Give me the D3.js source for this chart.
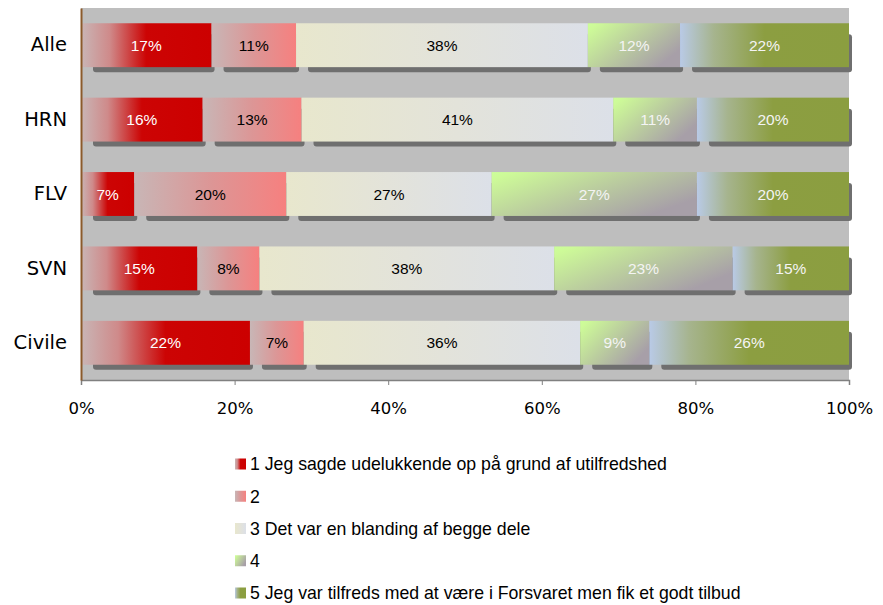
<!DOCTYPE html>
<html>
<head>
<meta charset="utf-8">
<script src="https://cdn.jsdelivr.net/npm/d3@7"></script>
<style>
  body { margin: 0; background: #fff; }
  svg { display: block; }
</style>
</head>
<body>
<svg id="chart" width="883" height="605"></svg>
<script>
// data
const groups = ["Alle", "HRN", "FLV", "SVN", "Civile"];
const answers = [
    "1 Jeg sagde udelukkende op på grund af utilfredshed",
    "2",
    "3 Det var en blanding af begge dele",
    "4",
    "5 Jeg var tilfreds med at være i Forsvaret men fik et godt tilbud"
];
const s1 = [17, 16, 7, 15, 22];
const s2 = [11, 13, 20, 8, 7];
const s3 = [38, 41, 27, 38, 36];
const s4 = [12, 11, 27, 23, 9];
const s5 = [22, 20, 20, 15, 26];
const xTicks = [0, 0.2, 0.4, 0.6, 0.8, 1];

const series = [s1, s2, s3, s4, s5];
const labelColor = ["#fff", "#000", "#000", "#f4f4f4", "#f4f4f4"];

const svg = d3.select("#chart");
const plot = { left: 81, right: 849, top: 8, bottom: 380 };

// gradients, roughly like the office fill effects
const defs = svg.append("defs");
const grads = [
    { x2: 1, y2: 0, stops: [[0, "#c9b6b6"], [0.22, "#cf8a8a"], [0.5, "#cc0404"], [1, "#cc0000"]] },
    { x2: 1, y2: 0, stops: [[0, "#c8b6b6"], [0.5, "#dc9696"], [1, "#f6807f"]] },
    { x2: 1, y2: 0, stops: [[0, "#e8e7cd"], [0.5, "#e3e3da"], [1, "#dce0e8"]] },
    { x2: 1, y2: 0.6, stops: [[0, "#ccff99"], [0.08, "#cdfa98"], [0.5, "#bcd09e"], [1, "#a79fa8"]] },
    { x2: 1, y2: 0, stops: [[0, "#b9cae6"], [0.2, "#a6b48e"], [0.5, "#8c9e41"], [1, "#8b9e40"]] }
];
grads.forEach(function (g, i) {
    const lg = defs.append("linearGradient")
        .attr("id", "grad" + i)
        .attr("x1", 0).attr("y1", 0)
        .attr("x2", g.x2).attr("y2", g.y2);
    g.stops.forEach(function (s) {
        lg.append("stop").attr("offset", s[0]).attr("stop-color", s[1]);
    });
});

const x = d3.scaleLinear().domain([0, 1]).range([plot.left, plot.right]);
const y = d3.scaleBand().domain(groups)
    .range([plot.top, plot.bottom])
    .paddingInner(0.41).paddingOuter(0.205);

const rows = groups.map(function (g, i) {
    const row = { group: g };
    series.forEach(function (s, k) { row["k" + k] = s[i]; });
    return row;
});
const keys = series.map(function (s, k) { return "k" + k; });
const stacked = d3.stack().keys(keys).offset(d3.stackOffsetExpand)(rows);

// plot background
svg.append("rect")
    .attr("x", plot.left).attr("y", plot.top)
    .attr("width", plot.right - plot.left)
    .attr("height", plot.bottom - plot.top)
    .attr("fill", "#bebebe");

// shadows first
const shadowG = svg.append("g");
stacked.forEach(function (layer) {
    shadowG.selectAll(null)
        .data(layer)
        .enter()
        .append("rect")
        .attr("x", d => x(d[0]) + 12)
        .attr("y", d => y(d.data.group) + 11)
        .attr("width", d => x(d[1]) - x(d[0]) - 9)
        .attr("height", y.bandwidth() - 6)
        .attr("rx", 3)
        .attr("fill", "#6f6f6f");
});

// bars
stacked.forEach(function (layer, k) {
    const g = svg.append("g");
    g.selectAll("rect")
        .data(layer)
        .enter()
        .append("rect")
        .attr("x", d => x(d[0]))
        .attr("y", d => y(d.data.group))
        .attr("width", d => x(d[1]) - x(d[0]))
        .attr("height", y.bandwidth())
        .attr("fill", "url(#grad" + k + ")");
    g.selectAll("text")
        .data(layer)
        .enter()
        .append("text")
        .attr("x", d => (x(d[0]) + x(d[1])) / 2)
        .attr("y", d => y(d.data.group) + y.bandwidth() / 2)
        .attr("dy", "0.36em")
        .attr("text-anchor", "middle")
        .attr("font-family", "Liberation Sans, Arial, sans-serif")
        .attr("font-size", 15.5)
        .attr("fill", labelColor[k])
        .text(d => d.data[keys[k]] + "%");
});

// bottom axis
const xAxis = svg.append("g")
    .attr("transform", "translate(0," + plot.bottom + ")")
    .call(d3.axisBottom(x).tickValues(xTicks).tickFormat(d3.format(".0%")).tickSize(5).tickPadding(17));
xAxis.select(".domain").attr("stroke", "#808080").attr("stroke-width", 1.5);
xAxis.selectAll(".tick line").attr("stroke", "#808080");
xAxis.selectAll(".tick text")
    .attr("font-family", "DejaVu Sans, sans-serif")
    .attr("font-size", 16.5)
    .attr("fill", "#000");

// left axis
const yAxis = svg.append("g")
    .attr("transform", "translate(" + plot.left + ",0)")
    .call(d3.axisLeft(y).tickSize(0).tickPadding(14));
yAxis.select(".domain").attr("stroke", "#8b5a2b").attr("stroke-width", 2);
yAxis.selectAll(".tick text")
    .attr("font-family", "DejaVu Sans, sans-serif")
    .attr("font-size", 19.5)
    .attr("fill", "#000");

// legend
const legend = svg.append("g").attr("transform", "translate(235,464)");
const item = legend.selectAll("g")
    .data(answers)
    .enter()
    .append("g")
    .attr("transform", (d, i) => "translate(0," + i * 32.25 + ")");
item.append("rect")
    .attr("x", 0).attr("y", -5.5)
    .attr("width", 11).attr("height", 11)
    .attr("fill", (d, i) => "url(#grad" + i + ")");
item.append("text")
    .attr("x", 15)
    .attr("dy", "0.36em")
    .attr("font-family", "Liberation Sans, Arial, sans-serif")
    .attr("font-size", 17.7)
    .attr("fill", "#000")
    .text(d => d);
</script>
</body>
</html>
